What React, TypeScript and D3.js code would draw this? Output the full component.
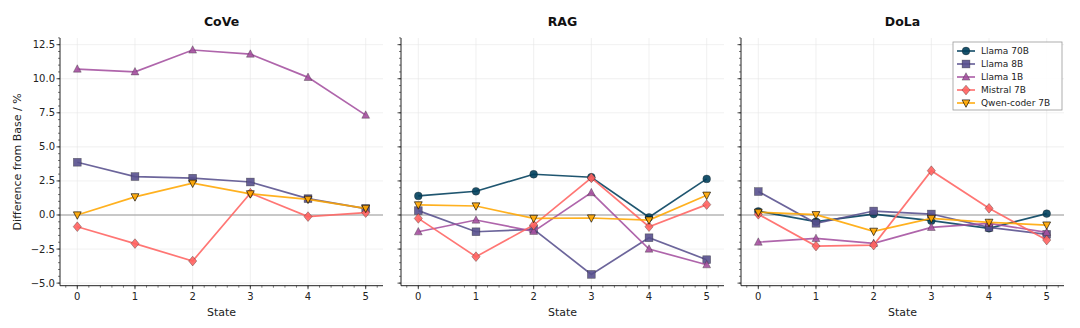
import React from "react";
import * as d3 from "d3";

const states = [0, 1, 2, 3, 4, 5];
const panels = ["CoVe", "RAG", "DoLa"];
const seriesNames = ["Llama 70B", "Llama 8B", "Llama 1B", "Mistral 7B", "Qwen-coder 7B"];
const seriesColors = ["#003f5c", "#58508d", "#a4509f", "#ff6361", "#ffa600"];
const seriesMarkers = ["circle", "square", "triangle", "diamond", "triangleDown"];

// values per panel, per series (null = no data)
const coveLlama70 = [null, null, null, null, null, null];
const coveLlama8 = [3.87, 2.82, 2.7, 2.42, 1.2, 0.47];
const coveLlama1 = [10.71, 10.51, 12.11, 11.81, 10.1, 7.33];
const coveMistral = [-0.86, -2.1, -3.38, 1.6, -0.12, 0.17];
const coveQwen = [0.0, 1.33, 2.33, 1.55, 1.15, 0.49];

const ragLlama70 = [1.4, 1.74, 2.99, 2.77, -0.17, 2.65];
const ragLlama8 = [0.32, -1.23, -1.05, -4.36, -1.67, -3.28];
const ragLlama1 = [-1.23, -0.37, -1.2, 1.64, -2.5, -3.65];
const ragMistral = [-0.25, -3.06, -0.74, 2.72, -0.86, 0.76];
const ragQwen = [0.74, 0.66, -0.25, -0.22, -0.37, 1.45];

const dolaLlama70 = [0.27, -0.49, 0.07, -0.42, -0.98, 0.1];
const dolaLlama8 = [1.72, -0.61, 0.29, 0.07, -0.91, -1.42];
const dolaLlama1 = [-1.99, -1.72, -2.08, -0.91, -0.61, -1.27];
const dolaMistral = [0.05, -2.28, -2.21, 3.25, 0.49, -1.84];
const dolaQwen = [0.2, 0.02, -1.2, -0.25, -0.54, -0.74];

const panelData = [
  [coveLlama70, coveLlama8, coveLlama1, coveMistral, coveQwen],
  [ragLlama70, ragLlama8, ragLlama1, ragMistral, ragQwen],
  [dolaLlama70, dolaLlama8, dolaLlama1, dolaMistral, dolaQwen],
];

const yTicks = [-5, -2.5, 0, 2.5, 5, 7.5, 10, 12.5];
const yMinorTicks = d3.range(-5, 13.01, 0.5);
const xMinorTicks = d3.range(-0.2, 5.21, 0.2);

const W = 1080;
const H = 328;
const panelLeft = [60, 401, 741];
const panelW = 323;
const top = 38;
const bottom = 285.7;
const FONT = "DejaVu Sans, sans-serif";

function Marker({ type, x, y, color }: { type: string; x: number; y: number; color: string }) {
  const s = 3.9;
  const common = { fill: color, fillOpacity: 0.9, stroke: "#222", strokeOpacity: 0.55, strokeWidth: 0.6 };
  if (type === "circle") return <circle cx={x} cy={y} r={s} {...common} />;
  if (type === "square") return <rect x={x - s} y={y - s} width={2 * s} height={2 * s} {...common} />;
  if (type === "triangle")
    return <path d={`M${x},${y - s * 1.1}L${x + s},${y + s * 0.8}L${x - s},${y + s * 0.8}Z`} {...common} />;
  if (type === "triangleDown")
    return (
      <path
        d={`M${x},${y + s * 1.1}L${x + s},${y - s * 0.8}L${x - s},${y - s * 0.8}Z`}
        {...common}
        stroke="#000"
        strokeOpacity={0.8}
        strokeWidth={0.8}
      />
    );
  return <path d={`M${x},${y - s * 1.25}L${x + s * 1.05},${y}L${x},${y + s * 1.25}L${x - s * 1.05},${y}Z`} {...common} />;
}

function Panel({ idx }: { idx: number }) {
  const x0 = panelLeft[idx];
  const xs = d3.scaleLinear().domain([-0.3, 5.3]).range([x0, x0 + panelW]);
  const ys = d3.scaleLinear().domain([-5.19, 12.99]).range([bottom, top]);
  const line = d3
    .line<number | null>()
    .defined((d) => d !== null)
    .x((_, i) => xs(states[i]))
    .y((d) => ys(d as number));
  const data = panelData[idx];
  return (
    <g>
      {states.map((s) => (
        <line key={"gx" + s} x1={xs(s)} x2={xs(s)} y1={top} y2={bottom} stroke="#e6e6e6" strokeWidth={0.6} />
      ))}
      {yTicks.map((t) => (
        <line key={"gy" + t} x1={x0} x2={x0 + panelW} y1={ys(t)} y2={ys(t)} stroke="#e6e6e6" strokeWidth={0.6} />
      ))}
      <line x1={x0} x2={x0 + panelW} y1={ys(0)} y2={ys(0)} stroke="#999" strokeWidth={1.2} />
      <text x={x0 + panelW / 2} y={26} textAnchor="middle" fontFamily={FONT} fontWeight="bold" fontSize={12.5} fill="#111">
        {panels[idx]}
      </text>
      {data.map((vals, si) => (
        <g key={si}>
          <path d={line(vals) || ""} fill="none" stroke={seriesColors[si]} strokeOpacity={0.88} strokeWidth={1.7} />
          {vals.map((v, i) =>
            v === null ? null : (
              <Marker key={i} type={seriesMarkers[si]} x={xs(states[i])} y={ys(v)} color={seriesColors[si]} />
            )
          )}
        </g>
      ))}
      <line x1={x0} x2={x0} y1={top} y2={bottom} stroke="#222" strokeWidth={1} />
      <line x1={x0} x2={x0 + panelW} y1={bottom} y2={bottom} stroke="#222" strokeWidth={1} />
      {yMinorTicks.map((t) => (
        <line key={"ym" + t} x1={x0 - 2} x2={x0} y1={ys(t)} y2={ys(t)} stroke="#222" strokeWidth={0.6} />
      ))}
      {yTicks.map((t) => (
        <g key={"yt" + t}>
          <line x1={x0 - 3.5} x2={x0} y1={ys(t)} y2={ys(t)} stroke="#222" strokeWidth={0.8} />
          {idx === 0 && (
            <text x={x0 - 5} y={ys(t)} dy="0.35em" textAnchor="end" fontFamily={FONT} fontSize={10} fill="#222">
              {t.toFixed(1).replace("-", "\u2212")}
            </text>
          )}
        </g>
      ))}
      {xMinorTicks.map((t) => (
        <line key={"xm" + t} x1={xs(t)} x2={xs(t)} y1={bottom} y2={bottom + 2} stroke="#222" strokeWidth={0.6} />
      ))}
      {states.map((s) => (
        <g key={"xt" + s}>
          <line x1={xs(s)} x2={xs(s)} y1={bottom} y2={bottom + 3.5} stroke="#222" strokeWidth={0.8} />
          <text x={xs(s)} y={bottom + 14} textAnchor="middle" fontFamily={FONT} fontSize={10} fill="#222">
            {s}
          </text>
        </g>
      ))}
      <text x={x0 + panelW / 2} y={316} textAnchor="middle" fontFamily={FONT} fontSize={11} fill="#222">
        State
      </text>
    </g>
  );
}

function Legend() {
  const lx = 953;
  const ly = 42;
  const w = 109;
  const h = 68;
  return (
    <g>
      <rect x={lx} y={ly} width={w} height={h} fill="white" fillOpacity={0.9} stroke="#999" strokeWidth={0.8} />
      {seriesNames.map((n, i) => {
        const y = ly + 9 + i * 13;
        return (
          <g key={n}>
            <line x1={lx + 4} x2={lx + 22} y1={y} y2={y} stroke={seriesColors[i]} strokeOpacity={0.88} strokeWidth={1.7} />
            <Marker type={seriesMarkers[i]} x={lx + 13} y={y} color={seriesColors[i]} />
            <text x={lx + 28} y={y} dy="0.35em" fontFamily={FONT} fontSize={9} fill="#222">
              {n}
            </text>
          </g>
        );
      })}
    </g>
  );
}

export default function App() {
  return (
    <svg width={W} height={H} style={{ position: "absolute", left: 0, top: 0, background: "white" }}>
      <rect width={W} height={H} fill="white" />
      {panels.map((_, i) => (
        <Panel key={i} idx={i} />
      ))}
      <text
        transform={`translate(21,${(top + bottom) / 2}) rotate(-90)`}
        textAnchor="middle"
        fontFamily={FONT}
        fontSize={11}
        fill="#222"
      >
        Difference from Base / %
      </text>
      <Legend />
    </svg>
  );
}
